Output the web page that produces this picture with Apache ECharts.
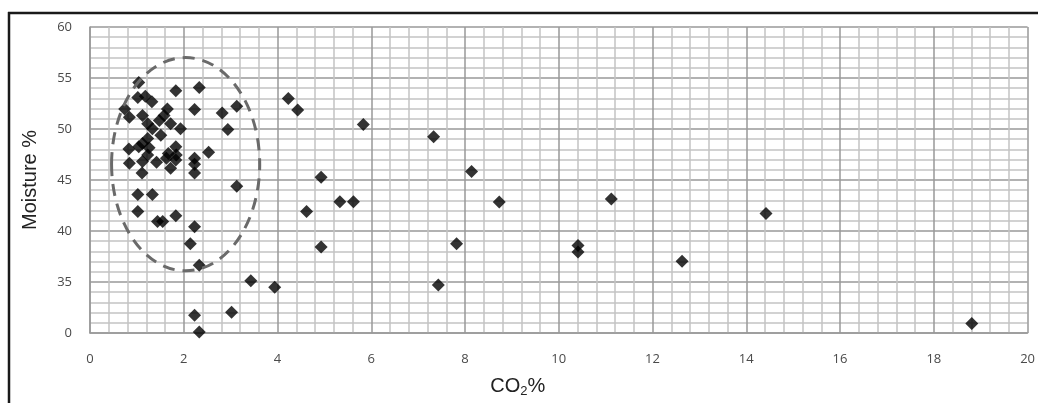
<!DOCTYPE html>
<html>
<head>
<meta charset="utf-8">
<script src="https://cdn.jsdelivr.net/npm/echarts@6/dist/echarts.min.js"></script>
<style>
html,body{margin:0;padding:0;background:#fff;overflow:hidden;}
#chart{width:100vw;height:100vh;}
</style>
</head>
<body>
<div id="chart"></div>
<script>
// CO2 % (x) and Moisture % (y) for each sample
const co2Values = [
  1.04, 1.83, 2.33, 1.02, 1.18, 1.32, 0.74, 0.84, 1.12, 1.65,
  1.58, 1.48, 1.72, 1.23, 1.33, 1.93, 2.23, 2.82, 3.13, 2.94,
  1.51, 1.23, 1.12, 0.83, 1.04, 1.26, 1.83, 2.53, 1.67, 1.84,
  0.84, 1.12, 1.23, 1.42, 1.63, 1.72, 1.83, 1.11, 2.23, 2.23,
  2.23, 3.13, 1.02, 1.33, 1.02, 1.44, 1.55, 1.83, 2.23, 2.14,
  2.33, 3.43, 3.94, 2.23, 3.02, 2.33, 4.23, 4.43, 5.83, 7.33,
  8.14, 4.93, 5.33, 5.62, 4.62, 8.73, 11.12, 4.93, 7.82, 10.41,
  10.41, 7.43, 12.63, 14.42, 18.81
];
const moistureValues = [
  54.55, 53.74, 54.07, 53.10, 53.20, 52.67, 51.97, 51.16, 51.32, 51.97,
  51.32, 50.84, 50.52, 50.52, 50.03, 50.03, 51.90, 51.58, 52.23, 49.96,
  49.38, 49.06, 48.58, 48.03, 48.26, 48.16, 48.26, 47.71, 47.61, 47.45,
  46.64, 46.81, 47.45, 46.74, 47.13, 46.16, 46.96, 45.68, 47.13, 46.55,
  45.68, 44.39, 43.58, 43.58, 41.90, 40.94, 40.94, 41.49, 40.42, 38.74,
  36.65, 35.13, 34.48, 31.74, 32.03, 30.10, 53.00, 51.87, 50.45, 49.23,
  45.84, 45.26, 42.87, 42.87, 41.90, 42.84, 43.13, 38.42, 38.74, 38.58,
  37.93, 34.71, 37.03, 41.71, 30.94
];
// Y tick values and the labels printed at them
const yTicks = [30, 35, 40, 45, 50, 55, 60];
const yTickLabels = ['0', '35', '40', '45', '50', '55', '60'];
const xTicks = [0, 2, 4, 6, 8, 10, 12, 14, 16, 18, 20];
const xTickLabels = ['0', '2', '4', '6', '8', '10', '12', '14', '16', '18', '20'];
// Dashed ellipse around the cluster (data units)
const ellipseCenter = [2.04, 46.55];
const ellipseRadius = [1.58, 10.45];

const points = co2Values.map((x, i) => [x, moistureValues[i]]);

const chart = echarts.init(document.getElementById('chart'), null, {renderer: 'canvas'});
const W = chart.getWidth(), H = chart.getHeight();
const tickFont = {color: '#4a4a4a', fontSize: 13, fontFamily: 'Open Sans, Liberation Sans, sans-serif'};
const option = {
  backgroundColor: '#fff',
  animation: false,
  grid: {left: 90, right: W - 1038, top: 27, bottom: H - 337, containLabel: false},
  xAxis: {
    type: 'value', min: 0, max: 20, interval: 2,
    name: 'CO{sub|2}%',
    nameLocation: 'middle', nameGap: 42,
    nameTextStyle: {
      color: '#222', fontSize: 20, fontFamily: 'Liberation Sans, Arial, sans-serif',
      padding: [0, 82, 0, 0],
      rich: {sub: {fontSize: 13, verticalAlign: 'bottom', padding: [10, 0, 0, 0], color: '#222', fontFamily: 'Liberation Sans, Arial, sans-serif'}}
    },
    axisLine: {show: true, lineStyle: {color: '#999', width: 1.5}},
    axisTick: {show: false},
    axisLabel: Object.assign({margin: 20, formatter: v => { const k = xTicks.indexOf(v); return k >= 0 ? xTickLabels[k] : ''; }}, tickFont),
    splitLine: {show: true, lineStyle: {color: '#999', width: 1.5}},
    minorTick: {show: false, splitNumber: 5},
    minorSplitLine: {show: true, lineStyle: {color: '#c4c4c4', width: 1.5}}
  },
  yAxis: {
    type: 'value', min: 30, max: 60, interval: 5,
    name: 'Moisture %',
    nameLocation: 'middle', nameGap: 50,
    nameTextStyle: {color: '#222', fontSize: 20, fontFamily: 'Liberation Sans, Arial, sans-serif'},
    axisLine: {show: true, lineStyle: {color: '#999', width: 1.5}},
    axisTick: {show: false},
    axisLabel: Object.assign({margin: 18, formatter: v => { const k = yTicks.indexOf(v); return k >= 0 ? yTickLabels[k] : ''; }}, tickFont),
    splitLine: {show: true, lineStyle: {color: '#999', width: 1.5}},
    minorTick: {show: false, splitNumber: 5},
    minorSplitLine: {show: true, lineStyle: {color: '#c4c4c4', width: 1.5}}
  },
  series: [{
    type: 'scatter',
    data: points,
    symbol: 'diamond',
    symbolSize: [13, 13],
    itemStyle: {color: '#000'},
    z: 5
  }]
};
chart.setOption(option);

const c = chart.convertToPixel({gridIndex: 0}, ellipseCenter);
const e = chart.convertToPixel({gridIndex: 0}, [ellipseCenter[0] + ellipseRadius[0], ellipseCenter[1] + ellipseRadius[1]]);
chart.setOption({
  graphic: [
    {type: 'ellipse', shape: {cx: c[0], cy: c[1], rx: Math.abs(e[0] - c[0]), ry: Math.abs(e[1] - c[1])},
     style: {fill: null, stroke: '#6a6a6a', lineWidth: 3, lineDash: [12, 8]}, z: 10, silent: true},
    {type: 'line', shape: {x1: 8, y1: 13, x2: W, y2: 13}, style: {stroke: '#1a1a1a', lineWidth: 2.5}, z: 10},
    {type: 'line', shape: {x1: 9, y1: 12, x2: 9, y2: H}, style: {stroke: '#1a1a1a', lineWidth: 2.5}, z: 10}
  ]
});
</script>
</body>
</html>
